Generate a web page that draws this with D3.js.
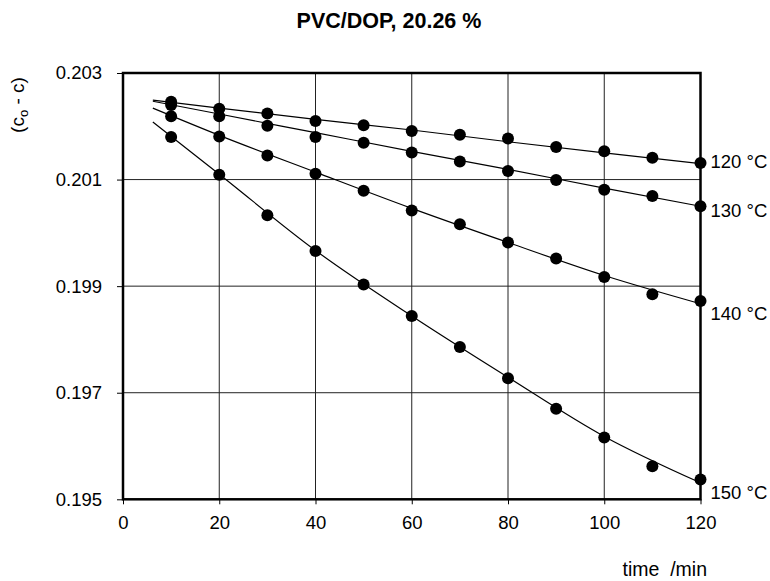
<!DOCTYPE html>
<html>
<head>
<meta charset="utf-8">
<script src="https://cdn.jsdelivr.net/npm/d3@7"></script>
<style>
  body { margin: 0; background: #fff; }
  svg { font-family: Arial, "Liberation Sans", sans-serif; }
  .grid line { stroke: #222; stroke-width: 1; }
  .tick text { fill: #000; }
</style>
</head>
<body>
<div id="chart"></div>
<script>
// measured time points (min)
var times = [10, 20, 30, 40, 50, 60, 70, 80, 90, 100, 110, 120];

// (c0 - c) for each temperature
var series120 = [0.20246, 0.20233, 0.20224, 0.20210, 0.20202, 0.20191, 0.20184, 0.20177, 0.20161, 0.20153, 0.20141, 0.20131];
var series130 = [0.20240, 0.20219, 0.20201, 0.20180, 0.20169, 0.20151, 0.20134, 0.20116, 0.20099, 0.20081, 0.20069, 0.20050];
var series140 = [0.20219, 0.20181, 0.20145, 0.20111, 0.20079, 0.20042, 0.20016, 0.19982, 0.19952, 0.19917, 0.19885, 0.19872];
var series150 = [0.20180, 0.20109, 0.20033, 0.19966, 0.19903, 0.19844, 0.19786, 0.19727, 0.19670, 0.19616, 0.19562, 0.19537];

// fitted curves
var fitTimes = [6.2, 20, 40, 60, 80, 100, 120];
var fit120 = [0.20249, 0.20234, 0.20213, 0.20193, 0.20171, 0.20150, 0.20130];
var fit130 = [0.20247, 0.20223, 0.20188, 0.20153, 0.20119, 0.20084, 0.20050];
var fit140 = [0.20234, 0.20183, 0.20114, 0.20046, 0.19982, 0.19920, 0.19867];
var fit150 = [0.20208, 0.20110, 0.19967, 0.19844, 0.19729, 0.19618, 0.19531];

var seriesLabels = ["120 °C", "130 °C", "140 °C", "150 °C"];
var xTicks = [0, 20, 40, 60, 80, 100, 120];
var yTicks = [0.195, 0.197, 0.199, 0.201, 0.203];

var width = 770, height = 581;
var margin = { top: 73, left: 123, right: 70, bottom: 82 };

var svg = d3.select("#chart").append("svg")
    .attr("width", width)
    .attr("height", height);

var xScale = d3.scaleLinear().domain([0, 120]).range([margin.left, 700.5]);
var yScale = d3.scaleLinear().domain([0.195, 0.203]).range([499.3, margin.top]);

// grid
var grid = svg.append("g").attr("class", "grid");
grid.selectAll(".vline")
    .data(xTicks.slice(1, -1))
    .enter().append("line")
    .attr("x1", d => xScale(d)).attr("x2", d => xScale(d))
    .attr("y1", yScale(0.195)).attr("y2", yScale(0.203));
grid.selectAll(".hline")
    .data(yTicks.slice(1, -1))
    .enter().append("line")
    .attr("x1", xScale(0)).attr("x2", xScale(120))
    .attr("y1", d => yScale(d)).attr("y2", d => yScale(d));

// axes
var xAxis = d3.axisBottom(xScale).tickValues(xTicks).tickSize(5).tickSizeOuter(0).tickPadding(12);
var yAxis = d3.axisLeft(yScale).tickValues(yTicks).tickSize(6).tickSizeOuter(0)
    .tickFormat(d3.format(".3f")).tickPadding(15);

svg.append("g")
    .attr("transform", "translate(0," + yScale(0.195) + ")")
    .call(xAxis)
    .call(g => g.select(".domain").remove())
    .selectAll("text").style("font-size", "18.5px");
svg.append("g")
    .attr("transform", "translate(" + xScale(0) + ",0)")
    .call(yAxis)
    .call(g => g.select(".domain").remove())
    .selectAll("text").style("font-size", "18.5px");

// frame
svg.append("rect")
    .attr("x", xScale(0)).attr("y", yScale(0.203))
    .attr("width", xScale(120) - xScale(0))
    .attr("height", yScale(0.195) - yScale(0.203))
    .attr("fill", "none").attr("stroke", "#000").attr("stroke-width", 2.5);

// fit lines
var line = d3.line()
    .x(d => xScale(d[0]))
    .y(d => yScale(d[1]))
    .curve(d3.curveMonotoneX);

var fits = [fit120, fit130, fit140, fit150];
svg.selectAll(".fit")
    .data(fits)
    .enter().append("path")
    .attr("class", "fit")
    .attr("d", f => line(fitTimes.map((t, i) => [t, f[i]])))
    .attr("fill", "none").attr("stroke", "#000").attr("stroke-width", 1.2);

// points
var allSeries = [series120, series130, series140, series150];
allSeries.forEach(function (s) {
    svg.append("g").selectAll("circle")
        .data(times.map((t, i) => [t, s[i]]))
        .enter().append("circle")
        .attr("cx", d => xScale(d[0]))
        .attr("cy", d => yScale(d[1]))
        .attr("r", 6)
        .attr("fill", "#000");
});

// temperature labels at the right end
var labelDy = [5, 11, 19, 19];
svg.selectAll(".serieslabel")
    .data(seriesLabels)
    .enter().append("text")
    .attr("x", xScale(120) + 10)
    .attr("y", (d, i) => yScale(allSeries[i][allSeries[i].length - 1]) + labelDy[i])
    .style("font-size", "18.5px")
    .text(d => d);

// title
svg.append("text")
    .attr("x", 389).attr("y", 28)
    .attr("text-anchor", "middle")
    .style("font-size", "21.5px").style("font-weight", "bold")
    .text("PVC/DOP, 20.26 %");

// axis titles
var yLabel = svg.append("text")
    .attr("transform", "translate(24,105) rotate(-90)")
    .attr("text-anchor", "middle")
    .style("font-size", "19px");
yLabel.append("tspan").text("(c");
yLabel.append("tspan").attr("dy", 4).style("font-size", "13px").text("o");
yLabel.append("tspan").attr("dy", -4).text(" - c)");

svg.append("text")
    .attr("x", 707).attr("y", 576)
    .attr("text-anchor", "end")
    .style("font-size", "19.5px")
    .attr("xml:space", "preserve")
    .text("time  /min");
</script>
</body>
</html>
